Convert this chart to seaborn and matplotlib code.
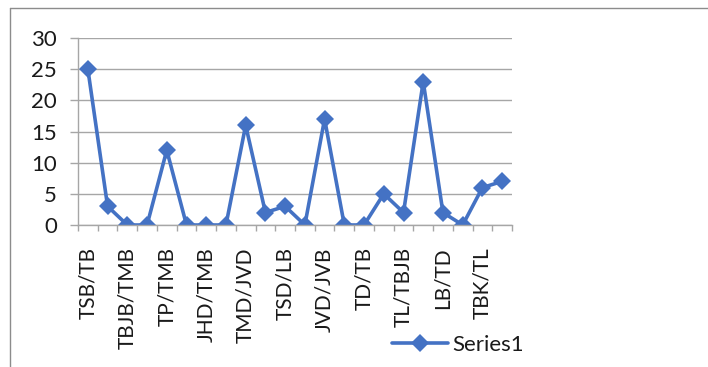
import matplotlib
matplotlib.use("Agg")
import matplotlib.pyplot as plt
from matplotlib.lines import Line2D
import seaborn as sns
import numpy as np
import pandas as pd

# Series values, one per category (22 categories)
values = [25, 3, 0, 0, 12, 0, 0, 0, 16, 2, 3, 0, 17, 0, 0, 5, 2, 23, 2, 0, 6, 7]
# Labels shown on every other category
tick_labels = ["TSB/TB", "TBJB/TMB", "TP/TMB", "JHD/TMB", "TMD/JVD", "TSD/LB",
               "JVD/JVB", "TD/TB", "TL/TBJB", "LB/TD", "TBK/TL"]
y_ticks = [0, 5, 10, 15, 20, 25, 30]
series_name = "Series1"

sns.set_theme(style="white")
plt.rcParams["font.family"] = ["Lato", "DejaVu Sans"]

positions = np.arange(len(values))
df = pd.DataFrame({"pos": positions, "val": values, "series": series_name})

fig = plt.figure(figsize=(7.08, 3.67), dpi=100)
ax = fig.add_axes([78 / 708, 1 - 225 / 367, (512 - 78) / 708, (225 - 38) / 367])

blue = "#4472C4"
grid_c = "#A6A6A6"
text_c = "#1a1a1a"
fs = 15

sns.lineplot(data=df, x="pos", y="val", hue="series", palette=[blue],
             marker="D", markersize=9.5, markeredgewidth=0, linewidth=2.6,
             ax=ax, legend=True)

ax.set_xlim(-0.5, len(values) - 0.5)
ax.set_ylim(0, 30)
ax.set_xlabel("")
ax.set_ylabel("")

# Category labels on every other point, tick marks on category boundaries
ax.set_xticks(positions[::2])
ax.set_xticklabels(tick_labels, rotation=90, fontsize=fs, color=text_c)
ax.set_xticks(np.arange(-0.5, len(values)), minor=True)
ax.tick_params(axis="x", which="major", length=0, pad=16)
ax.tick_params(axis="x", which="minor", length=4.5, width=1, color=grid_c, bottom=True)

ax.set_yticks(y_ticks)
ax.set_yticklabels([str(t) for t in y_ticks], fontsize=16, color=text_c)
ax.tick_params(axis="y", which="major", length=6, width=1, color=grid_c, left=True, pad=9)
ax.yaxis.grid(True, color=grid_c, linewidth=1)
ax.set_axisbelow(True)

for side in ["top", "right"]:
    ax.spines[side].set_visible(False)
for side in ["left", "bottom"]:
    ax.spines[side].set_color(grid_c)
    ax.spines[side].set_linewidth(1)

leg = ax.legend(loc="center", bbox_to_anchor=(458 / 708, 1 - 345 / 367),
                bbox_transform=fig.transFigure, frameon=False, fontsize=16,
                handlelength=2.5, handletextpad=0.2, borderaxespad=0)
for h in leg.legend_handles:
    h.set_linewidth(2.6)
for t in leg.get_texts():
    t.set_color(text_c)

# Chart area border
fig.add_artist(Line2D([10 / 708, 10 / 708], [0, 1 - 8 / 367], color="#8c8c8c", linewidth=1))
fig.add_artist(Line2D([10 / 708, 1], [1 - 8 / 367, 1 - 8 / 367], color="#8c8c8c", linewidth=1))

fig.savefig("out.png", dpi=100)
